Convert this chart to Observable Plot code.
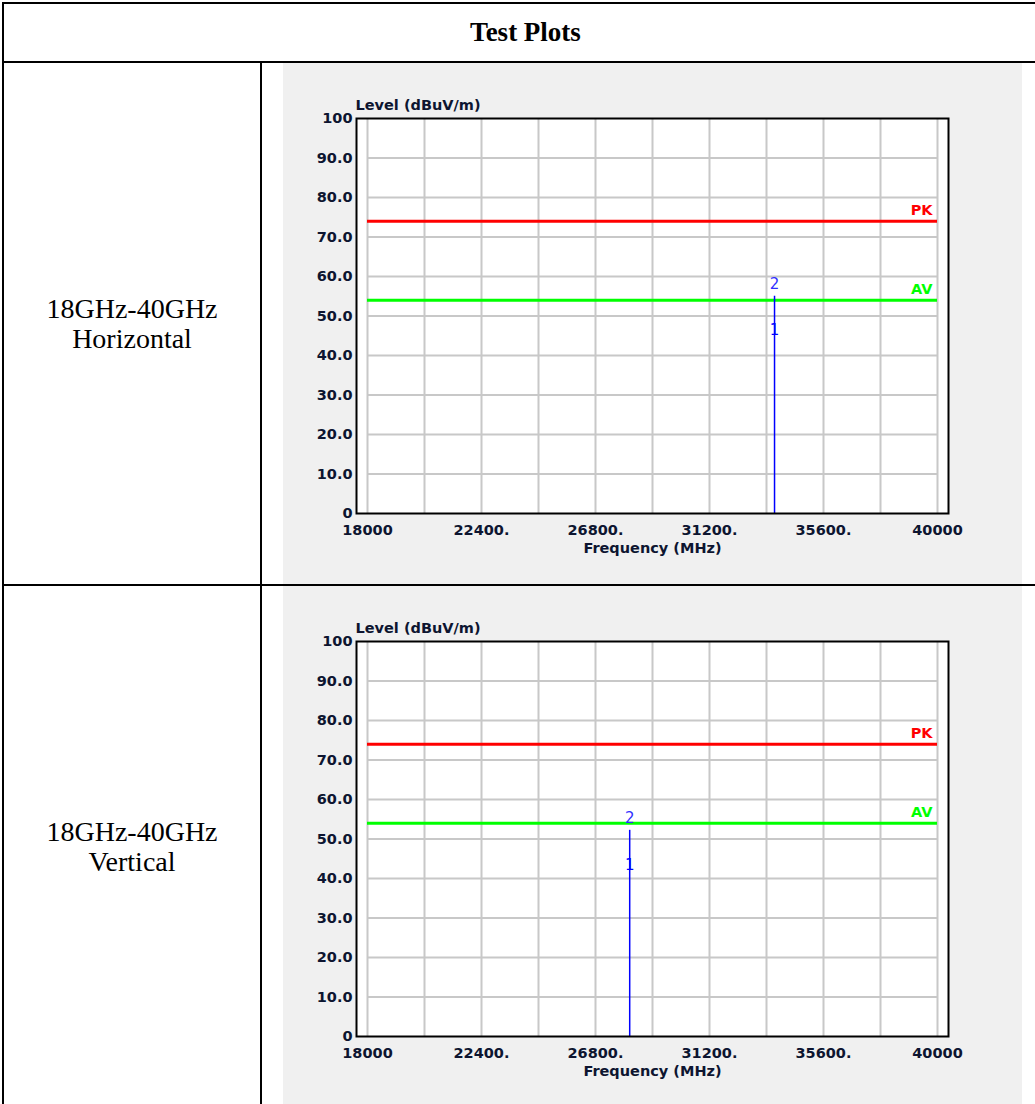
<!DOCTYPE html>
<html><head><meta charset="utf-8">
<script src="https://cdn.jsdelivr.net/npm/d3@7"></script>
<script src="https://cdn.jsdelivr.net/npm/@observablehq/plot@0.6"></script>
<style>
body{margin:0;background:#fff;width:1035px;height:1104px;overflow:hidden;position:relative;}
.ln{position:absolute;background:#000;}
.gray{position:absolute;background:#f0f0f0;left:283px;width:739px;height:521px;}
.gray svg{display:block;}
.cell{position:absolute;left:4px;width:256px;height:521px;display:flex;flex-direction:column;align-items:center;justify-content:center;text-align:center;font-family:"Liberation Serif","Times New Roman",serif;font-size:28px;line-height:30px;color:#000;}
.title{position:absolute;left:4px;width:1043px;top:4px;height:57px;display:flex;align-items:center;justify-content:center;font-family:"Liberation Serif","Times New Roman",serif;font-weight:bold;font-size:27px;color:#000;}
</style></head>
<body>
<div class="title" id="title"></div>
<div class="ln" style="left:2px;top:2px;width:1040px;height:2px"></div>
<div class="ln" style="left:2px;top:2px;width:2px;height:1110px"></div>
<div class="ln" style="left:2px;top:61px;width:1040px;height:2px"></div>
<div class="ln" style="left:260px;top:61px;width:2px;height:1050px"></div>
<div class="ln" style="left:2px;top:584px;width:1040px;height:2px"></div>
<div id="c0" class="cell" style="top:63px"></div>
<div id="c1" class="cell" style="top:586px"></div>
<div id="g0" class="gray" style="top:63px"></div>
<div id="g1" class="gray" style="top:586px"></div>
<script>
// ---- data ----
const titleText = "Test Plots";
const rangeLabel = "18GHz-40GHz";
const polarizations = ["Horizontal", "Vertical"];
const markerFreq = [33710, 28120];   // MHz
const peakLevel = [55.0, 52.2];      // dBuV/m (marker 2)
const avgLevel = [46.3, 43.3];       // dBuV/m (marker 1)
const limitNames = ["PK", "AV"];
const limitValues = [74, 54];
const xTicks = [18000, 22400, 26800, 31200, 35600, 40000];
const xTickLabels = ["18000", "22400.", "26800.", "31200.", "35600.", "40000"];
const xGrid = [18000, 20200, 22400, 24600, 26800, 29000, 31200, 33400, 35600, 37800, 40000];
const yTicks = [0, 10, 20, 30, 40, 50, 60, 70, 80, 90, 100];
const yTickLabels = ["0", "10.0", "20.0", "30.0", "40.0", "50.0", "60.0", "70.0", "80.0", "90.0", "100"];
const yLabel = "Level (dBuV/m)";
const xLabel = "Frequency (MHz)";

document.getElementById("title").textContent = titleText;
const xMap = new Map(xTicks.map((d, i) => [d, xTickLabels[i]]));
const yMap = new Map(yTicks.map((d, i) => [d, yTickLabels[i]]));
const limitColors = ["#ff0000", "#00ff00"];

polarizations.forEach((pol, k) => {
  const cell = document.getElementById("c" + k);
  [rangeLabel, pol].forEach(t => { const d = document.createElement("div"); d.textContent = t; cell.appendChild(d); });

  const marker = [{f: markerFreq[k], pk: peakLevel[k], av: avgLevel[k]}];
  const limits = limitNames.map((n, i) => ({name: n, v: limitValues[i], c: limitColors[i]}));

  const chart = Plot.plot({
    width: 739, height: 521,
    marginLeft: 73, marginRight: 74, marginTop: 55, marginBottom: 71,
    style: {fontFamily: "DejaVu Sans", fontSize: "14.5px", fontWeight: "bold", color: "#0d1530", background: "transparent", overflow: "visible"},
    x: {domain: [18000, 40000], inset: 11},
    y: {domain: [0, 100]},
    marks: [
      Plot.frame({fill: "white"}),
      Plot.ruleX(xGrid, {stroke: "#c8c8c8", strokeWidth: 2}),
      Plot.ruleY(yTicks.slice(1, -1), {x1: 18000, x2: 40000, stroke: "#c8c8c8", strokeWidth: 2}),
      ...limits.map(l => Plot.ruleY([l], {y: "v", x1: 18000, x2: 40000, stroke: l.c, strokeWidth: 3})),
      ...limits.map(l => Plot.text([l], {x: () => 40000, y: "v", text: "name", fill: l.c, textAnchor: "end", dx: -5, dy: -11, fontSize: 14.5})),
      Plot.ruleX(marker, {x: "f", y1: 0, y2: "pk", stroke: "#0000ff", strokeWidth: 1.5}),
      Plot.text(marker, {x: "f", y: "pk", text: () => "2", fill: "#3030ff", fontWeight: "normal", fontSize: 15, dy: -12}),
      Plot.text(marker, {x: "f", y: "av", text: () => "1", fill: "#0000ff", fontWeight: "normal", fontSize: 15}),
      Plot.frame({stroke: "#000", strokeWidth: 2}),
      Plot.axisX(xTicks, {tickSize: 0, tickPadding: 11, tickFormat: d => xMap.get(d), label: null}),
      Plot.axisY(yTicks, {tickSize: 0, tickPadding: 4, tickFormat: d => yMap.get(d), label: null}),
      Plot.text([yLabel], {frameAnchor: "top-left", lineAnchor: "middle", textAnchor: "start", dy: -13, dx: -1}),
      Plot.text([xLabel], {frameAnchor: "bottom", lineAnchor: "middle", dy: 35})
    ]
  });
  document.getElementById("g" + k).appendChild(chart);
});
</script>
</body></html>
